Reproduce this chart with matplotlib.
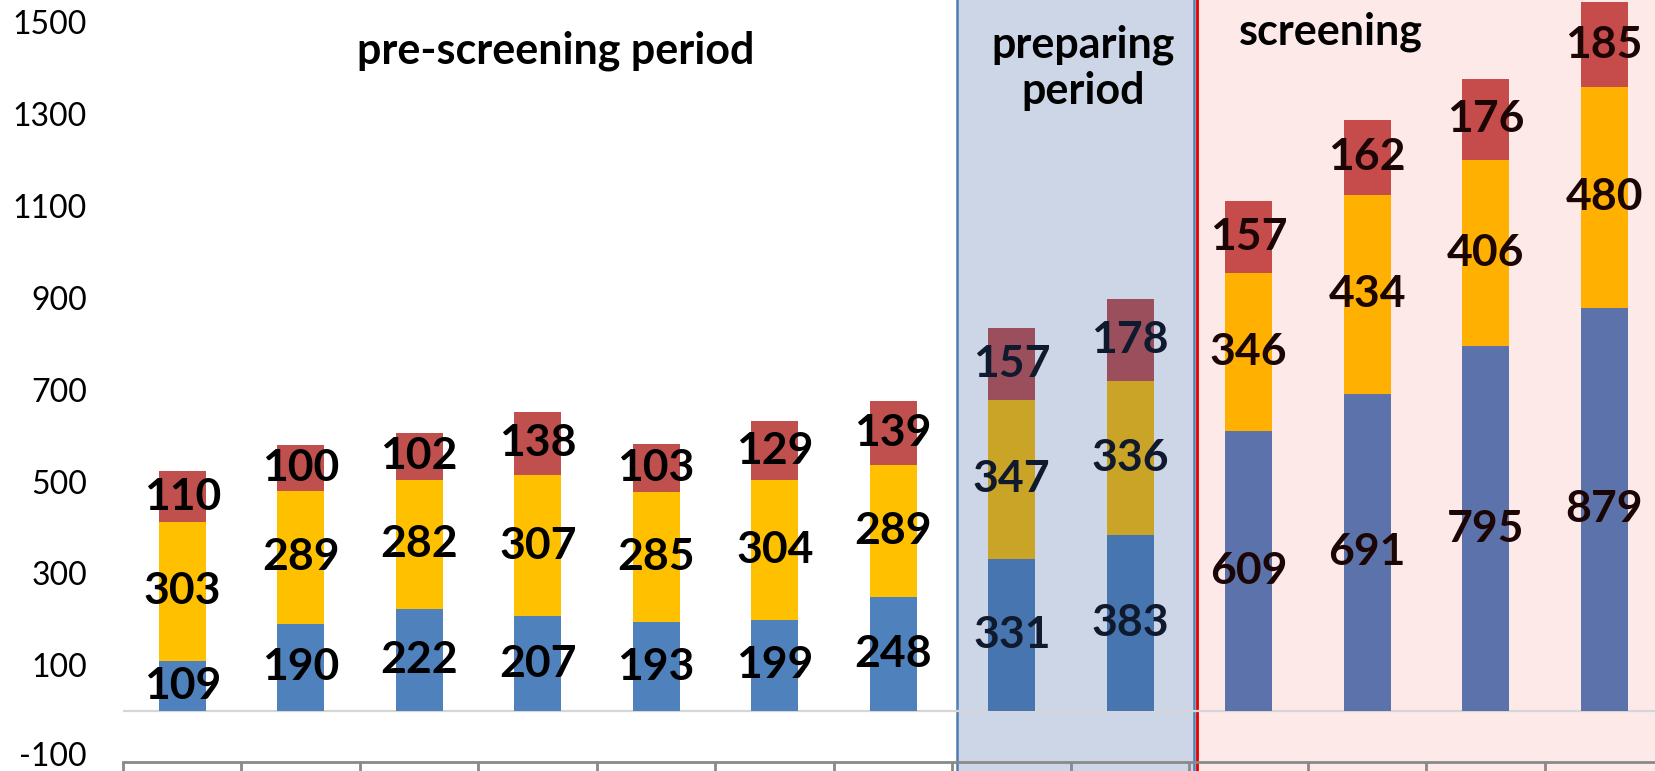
import matplotlib
matplotlib.use("Agg")
import matplotlib.pyplot as plt
import matplotlib.transforms as mtransforms
from matplotlib.patches import Rectangle

# ---- data ----
categories = list(range(13))
period = ["pre"] * 7 + ["prep"] * 2 + ["scr"] * 4
blue_vals = [109, 190, 222, 207, 193, 199, 248, 331, 383, 609, 691, 795, 879]
yellow_vals = [303, 289, 282, 307, 285, 304, 289, 347, 336, 346, 434, 406, 480]
red_vals = [110, 100, 102, 138, 103, 129, 139, 157, 178, 157, 162, 176, 185]
yticks = [-100, 100, 300, 500, 700, 900, 1100, 1300, 1500]
period_titles = ["pre-screening period", "preparing\nperiod", "screening"]

# ---- styles ----
colors = {
    "pre": ("#4f81bd", "#ffc000", "#c0504d", "#000000"),
    "prep": ("#4775b0", "#c9a426", "#9b4f5c", "#101a2e"),
    "scr": ("#5b73aa", "#ffb000", "#c64b4b", "#1c0505"),
}

W, H = 1656, 771
fig = plt.figure(figsize=(W / 100, H / 100), dpi=100)
left_px, right_px = 123, 123 + 13 * 118.5
bottom_px = 762
ax = fig.add_axes([left_px / W, (H - bottom_px) / H, (right_px - left_px) / W, bottom_px / H])
ax.set_xlim(-0.5, 12.5)
ax.set_ylim(-111, 1549)

FONT = "Lato"

# period backgrounds
trans = mtransforms.blended_transform_factory(ax.transData, ax.transAxes)
ax.add_patch(Rectangle((6.535, -0.1), 8.535 - 6.535, 1.3, transform=trans,
                       facecolor="#cdd6e6", edgecolor="#4f7fb0", lw=1.8,
                       clip_on=False, zorder=0))
ax.add_patch(Rectangle((8.575, -0.1), 5.0, 1.3, transform=trans,
                       facecolor="#fee9e9", edgecolor="none",
                       clip_on=False, zorder=0))
ax.plot([8.562, 8.562], [-0.1, 1.2], transform=trans, color="#e00000",
        lw=2, clip_on=False, zorder=0.5)

ax.axhline(0, color="#d6d6d6", lw=1.6, zorder=1)

width = 0.4
for i, x in enumerate(categories):
    cb, cy, cr, ct = colors[period[i]]
    b, yv, r = blue_vals[i], yellow_vals[i], red_vals[i]
    ax.bar(x, b, width, color=cb, zorder=2)
    ax.bar(x, yv, width, bottom=b, color=cy, zorder=2)
    ax.bar(x, r, width, bottom=b + yv, color=cr, zorder=2)
    for base, v in ((0, b), (b, yv), (b + yv, r)):
        ax.text(x, base + v / 2, f"{v}", ha="center", va="center",
                fontsize=32, fontweight="bold", family=FONT, color=ct, zorder=3)

# period titles
ax.text(3.15, 1439, period_titles[0], ha="center", va="center", fontsize=31,
        fontweight="bold", family=FONT, color="black", zorder=3)
ax.text(7.6, 1401, period_titles[1], ha="center", va="center", fontsize=31,
        fontweight="bold", family=FONT, color="#000000", zorder=3,
        linespacing=1.2)
ax.text(9.69, 1480, period_titles[2], ha="center", va="center", fontsize=31,
        fontweight="bold", family=FONT, color="#000000", zorder=3)

# axes styling
for s in ("left", "right", "top"):
    ax.spines[s].set_visible(False)
ax.spines["bottom"].set_color("#898989")
ax.spines["bottom"].set_linewidth(2)
ax.spines["bottom"].set_zorder(4)
ax.set_yticks(yticks)
ax.set_yticklabels([str(t) for t in yticks], family=FONT, fontsize=23)
ax.tick_params(axis="y", length=0, pad=26)
ax.set_xticks([c - 0.5 for c in categories] + [12.5])
ax.set_xticklabels([])
ax.tick_params(axis="x", direction="out", length=8, width=2, color="#898989")
ax.set_facecolor("none")

# nudge the lowest tick label slightly up so it stays inside the canvas
lowest = ax.get_yticklabels()[0]
lowest.set_transform(lowest.get_transform() +
                     mtransforms.ScaledTranslation(0, 3 / 100, fig.dpi_scale_trans))

fig.savefig("out.png", dpi=100)
